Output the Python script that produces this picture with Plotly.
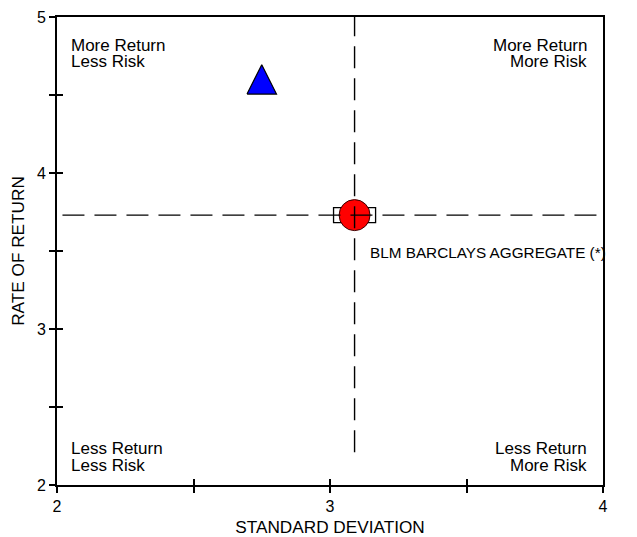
import plotly.graph_objects as go

# ---- data ----
fund_sd = [2.75]
fund_ret = [4.60]
bench_sd = [3.09]
bench_ret = [3.73]
bench_name = "BLM BARCLAYS AGGREGATE (*)"
x_ticks = [2, 2.5, 3, 3.5, 4]
x_ticklabels = ["2", "", "3", "", "4"]
y_ticks = [2, 2.5, 3, 3.5, 4, 4.5, 5]
y_ticklabels = ["2", "", "3", "", "4", "", "5"]
quad_top_left = ["More Return", "Less Risk"]
quad_top_right = ["More Return", "More Risk"]
quad_bottom_left = ["Less Return", "Less Risk"]
quad_bottom_right = ["Less Return", "More Risk"]

FONT = "Liberation Sans, Arial, sans-serif"
TXT = "#000000"

fig = go.Figure()

# benchmark circle
fig.add_trace(go.Scatter(
    x=bench_sd, y=bench_ret, mode="markers",
    marker=dict(symbol="circle", size=31, color="#ff0000",
                line=dict(color="#3a0000", width=1)),
    hoverinfo="skip", showlegend=False))

# fund triangle (drawn as polygon around the data point; half sizes are style)
tri_hw = 0.054
tri_hh = 0.094
cx, cy = fund_sd[0], fund_ret[0]
fig.add_trace(go.Scatter(
    x=[cx - tri_hw, cx + tri_hw, cx, cx - tri_hw],
    y=[cy - tri_hh, cy - tri_hh, cy + tri_hh, cy - tri_hh],
    mode="lines", fill="toself", fillcolor="#0000ff",
    line=dict(color="#000000", width=1.2),
    hoverinfo="skip", showlegend=False))

# overlay axes only for inside ticks
fig.add_trace(go.Scatter(x=[None], y=[None], xaxis="x2", yaxis="y2",
                         showlegend=False, hoverinfo="skip"))

# benchmark rectangle marker (size in data units)
box_hw = 0.077
box_hh = 0.048
fig.add_shape(type="rect", xref="x", yref="y",
              x0=bench_sd[0] - box_hw, x1=bench_sd[0] + box_hw,
              y0=bench_ret[0] - box_hh, y1=bench_ret[0] + box_hh,
              line=dict(color="#000000", width=1.3), fillcolor="rgba(0,0,0,0)",
              layer="below")

# dashed crosshair
dash = "22px,10px"
fig.add_shape(type="line", xref="x", yref="paper",
              x0=bench_sd[0], x1=bench_sd[0], y0=0.07, y1=1,
              line=dict(color="#000000", width=1.4, dash=dash), layer="above")
fig.add_shape(type="line", xref="paper", yref="y",
              x0=0.01, x1=1, y0=bench_ret[0], y1=bench_ret[0],
              line=dict(color="#000000", width=1.4, dash=dash), layer="above")

qfont = dict(family=FONT, size=17, color=TXT)
line_y_top = [0.940, 0.904]
line_y_bot = [0.079, 0.041]
for lines, xp, anchor, ys in [
    (quad_top_left, 0.022, "left", line_y_top),
    (quad_top_right, 0.974, "right", line_y_top),
    (quad_bottom_left, 0.022, "left", line_y_bot),
    (quad_bottom_right, 0.974, "right", line_y_bot),
]:
    for txt, yp in zip(lines, ys):
        fig.add_annotation(x=xp, y=yp, xref="paper", yref="paper", text=txt,
                           showarrow=False, xanchor=anchor, yanchor="middle",
                           font=qfont)

fig.add_annotation(x=0.569, y=0.496, xref="paper", yref="paper", text=bench_name,
                   showarrow=False, xanchor="left", yanchor="middle",
                   font=dict(family=FONT, size=15.3, color=TXT))

axis_common = dict(showgrid=False, zeroline=False, showline=True, linecolor="#000000",
                   linewidth=2, mirror=True, ticks="outside", ticklen=6, tickwidth=1.5,
                   tickcolor="#000000", tickfont=dict(family=FONT, size=16, color=TXT),
                   automargin=False)

fig.update_layout(
    width=629, height=529,
    margin=dict(l=49, r=34, t=9, b=52),
    paper_bgcolor="white", plot_bgcolor="white",
    font=dict(family=FONT, color=TXT),
    xaxis=dict(range=[2, 4], tickvals=x_ticks, ticktext=x_ticklabels,
               title=dict(text="STANDARD DEVIATION", standoff=10,
                          font=dict(family=FONT, size=17.2, color=TXT)),
               **axis_common),
    yaxis=dict(range=[2, 5], tickvals=y_ticks, ticktext=y_ticklabels,
               title=dict(text="RATE OF RETURN", standoff=10,
                          font=dict(family=FONT, size=17.2, color=TXT)),
               **axis_common),
    xaxis2=dict(range=[2, 4], overlaying="x", anchor="y2", tickvals=x_ticks,
                showticklabels=False, ticks="inside", ticklen=6, tickwidth=1.5,
                tickcolor="#000000", showgrid=False, zeroline=False, showline=False),
    yaxis2=dict(range=[2, 5], overlaying="y", anchor="x2", tickvals=y_ticks,
                showticklabels=False, ticks="inside", ticklen=6, tickwidth=1.5,
                tickcolor="#000000", showgrid=False, zeroline=False, showline=False),
    showlegend=False,
)

fig.write_html("out.html")
